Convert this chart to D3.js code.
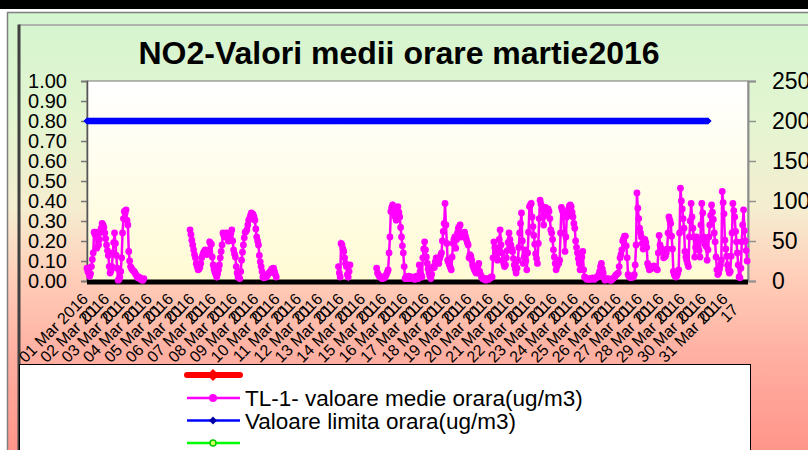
<!DOCTYPE html>
<html><head><meta charset="utf-8">
<script src="https://cdn.jsdelivr.net/npm/d3@7"></script>
<style>body{margin:0;background:#fff;} svg{display:block;font-family:Arial,"Liberation Sans",sans-serif;}</style>
</head><body><svg id="c" width="808" height="450"></svg>
<script>
const chartTitle = "NO2-Valori medii orare martie2016";
const dayLabels = ["01","02","03","04","05","06","07","08","09","10","11","12","13","14","15","16","17","18","19","20","21","22","23","24","25","26","27","28","29","30","31"];
const monthLabel = "Mar 2016";
const tickSubLabels = ["01","01","01","01","01","01","01","01","01","01","01","01","01","01","01","01","01","01","01","01","01","01","01","01","01","01","01","01","01","01","17"];
const hoursTotal = 744;
const leftTicks = [0,0.1,0.2,0.3,0.4,0.5,0.6,0.7,0.8,0.9,1.0];
const rightTicks = [0,50,100,150,200,250];
const limitValue = 200;
const limitHours = [0, 699];
const tl1SegStarts = [0,116,283,326];
const tl1SegA = [16,12,10,6,9,18,27,35,61,58,
 61,41,55,45,52,61,66,72,70,67,
 60,53,45,38,32,18,10,13,18,35,
 48,60,47,32,16,1,2,5,12,29,
 60,78,87,85,89,76,70,37,25,18,
 16,14,13,12,10,8,6,4,5,3,
 4,2,1,1,3];
const tl1SegB = [64,58,51,45,39,33,29,22,18,14,
 15,17,22,29,32,35,37,39,36,33,
 36,39,49,47,46,30,20,15,11,8,
 5,9,14,20,29,37,45,60,57,55,
 58,60,54,50,52,55,60,64,50,39,
 34,30,18,10,5,4,3,12,26,36,
 45,54,61,62,64,70,76,78,82,85,
 84,83,80,76,65,55,50,45,32,24,
 18,12,5,4,6,5,5,7,9,10,
 11,13,15,14,16,12,8,5];
const tl1SegC = [18,10,5,47,45,40,37,29,22,18,8,5,12,20];
const tl1SegD = [16,10,8,6,5,4,3,3,5,4,
 6,8,11,14,35,55,87,92,95,90,
 85,80,76,88,93,86,80,67,55,44,
 35,18,3,5,4,3,6,4,3,3,
 5,4,3,2,4,6,5,3,20,12,
 8,5,29,40,49,39,30,22,15,10,
 6,3,8,16,18,17,24,29,26,24,
 22,28,32,35,50,62,72,97,70,47,
 26,23,20,17,14,30,47,52,55,41,
 52,60,66,68,70,55,58,57,59,61,
 56,52,48,45,29,33,31,26,20,17,
 14,12,10,15,19,22,12,8,5,3,
 4,2,3,1,2,3,2,3,4,5,
 5,29,49,42,35,30,26,38,52,64,
 45,35,26,22,18,20,29,38,48,60,
 52,45,40,37,28,20,15,10,16,26,
 42,60,72,85,50,22,30,39,25,14,
 35,61,93,95,97,80,68,57,46,34,
 28,22,47,78,101,96,89,80,70,82,
 92,88,85,90,87,78,64,60,52,39,
 30,22,14,18,25,22,26,60,92,88,
 85,60,37,55,80,84,90,94,95,93,
 86,80,72,66,50,42,35,28,22,14,
 20,30,37,14,5,4,3,2,3,2,
 3,2,3,4,3,2,3,4,5,5,
 8,12,18,22,15,10,4,1,2,3,
 2,3,2,1,1,2,3,4,5,7,
 8,9,10,18,29,33,39,50,53,56,
 56,44,29,8,6,5,4,5,6,5,
 8,20,45,110,91,78,66,60,55,47,
 40,46,52,48,42,22,18,14,15,16,
 18,17,19,18,16,15,14,35,57,45,
 41,39,37,29,30,31,35,40,60,80,
 76,72,56,40,12,8,6,5,7,10,
 14,60,116,100,90,78,66,37,30,26,
 22,18,55,75,97,80,66,55,30,42,
 55,50,47,38,30,70,97,85,55,50,
 45,43,26,39,55,70,82,95,86,77,
 60,49,30,14,8,10,15,20,26,112,
 98,84,51,40,31,20,14,10,12,31,
 60,97,88,80,62,49,35,20,5,4,
 16,49,70,89,63,50,38,25];
const legendLabels = ["", "TL-1- valoare medie orara(ug/m3)", "Valoare limita orara(ug/m3)", ""];
const legendColors = ["#ff0000", "#ff00ff", "#0000ff", "#00ff00"];

const svg = d3.select("#c");
const W = 808, H = 450;
const P = {l: 87, r: 748, t: 81, b: 281};

const defs = svg.append("defs");
const bg = defs.append("linearGradient").attr("id","bgG").attr("gradientUnits","userSpaceOnUse")
  .attr("x1",0).attr("y1",12).attr("x2",0).attr("y2",450);
[[0,"#d3f5cf"],[0.25,"#e4f5d1"],[0.45,"#f5edd0"],[0.6,"#ffcfba"],[0.78,"#ffb0a2"],[1,"#ff958a"]]
  .forEach(([o,c]) => bg.append("stop").attr("offset",o).attr("stop-color",c));
const pg = defs.append("linearGradient").attr("id","plotG").attr("x1",0).attr("y1",0).attr("x2",0).attr("y2",1);
pg.append("stop").attr("offset",0).attr("stop-color","#ffffff");
pg.append("stop").attr("offset",1).attr("stop-color","#fffbd4");

svg.append("rect").attr("width",W).attr("height",H).attr("fill","#fff");
svg.append("rect").attr("width",W).attr("height",9).attr("fill","#000");
svg.append("rect").attr("x",7.5).attr("y",12.5).attr("width",820).attr("height",460)
  .attr("fill","url(#bgG)").attr("stroke","#808080").attr("stroke-width",1.5);
svg.append("line").attr("x1",19).attr("x2",W).attr("y1",25).attr("y2",25).attr("stroke","#a0a0a0").attr("stroke-width",1.5);
svg.append("line").attr("x1",19).attr("x2",19).attr("y1",24.5).attr("y2",H).attr("stroke","#404040").attr("stroke-width",3);

// title
svg.append("text").attr("x",399).attr("y",64).attr("text-anchor","middle")
  .attr("font-size",32).attr("font-weight","bold").attr("fill","#000").text(chartTitle);

const x = d3.scaleLinear().domain([0, hoursTotal]).range([P.l, P.r]);
const yL = d3.scaleLinear().domain([0, 1]).range([P.b, P.t]);
const yR = d3.scaleLinear().domain([0, 250]).range([P.b, P.t]);

svg.append("rect").attr("x",P.l).attr("y",P.t).attr("width",P.r-P.l).attr("height",P.b-P.t)
  .attr("fill","url(#plotG)").attr("stroke","#8a8a8a").attr("stroke-width",1.2);

// left axis
const gl = svg.append("g").attr("transform",`translate(${P.l},0)`)
  .call(d3.axisLeft(yL).tickValues(leftTicks).tickFormat(d3.format(".2f")).tickSize(6).tickPadding(14));
gl.select(".domain").attr("stroke","#555").attr("stroke-width",1.5);
gl.selectAll(".tick line").attr("stroke","#777").attr("stroke-width",1.5);
gl.selectAll(".tick text").attr("font-size",20).attr("font-family","Arial, 'Liberation Sans', sans-serif").attr("fill","#000");

// right axis
const gr = svg.append("g").attr("transform",`translate(${P.r},0)`)
  .call(d3.axisRight(yR).tickValues(rightTicks).tickFormat(d3.format("d")).tickSize(8).tickPadding(16));
gr.select(".domain").attr("stroke","#909090").attr("stroke-width",2);
gr.selectAll(".tick line").attr("stroke","#909090").attr("stroke-width",1.5);
gr.selectAll(".tick text").attr("font-size",23).attr("font-family","Arial, 'Liberation Sans', sans-serif").attr("fill","#000");

// x axis labels
const xl = svg.append("g");
dayLabels.forEach((d, i) => {
  const t = xl.append("text").attr("transform",`translate(${x(i*24)+2},300) rotate(-45)`)
    .attr("text-anchor","end").attr("font-size",16).attr("fill","#000");
  t.append("tspan").attr("x",0).attr("y",0).text(`${d} ${monthLabel}`);
  t.append("tspan").attr("x",0).attr("dy","0.95em").text(tickSubLabels[i]);
});

// black zero line
svg.append("line").attr("x1",x(0)).attr("x2",x(hoursTotal)).attr("y1",yR(0)+1).attr("y2",yR(0)+1)
  .attr("stroke","#000").attr("stroke-width",5);

// limit line
const limitPts = d3.range(limitHours[0], limitHours[1]+1).map(h => ({h, v: limitValue}));
svg.append("path").datum(limitPts)
  .attr("d", d3.line().x(d => x(d.h)).y(d => yR(d.v)))
  .attr("fill","none").attr("stroke","#0000ff").attr("stroke-width",4.5).attr("stroke-linecap","round");
svg.append("g").selectAll("path").data(limitPts).join("path")
  .attr("d", d => { const cx = x(d.h), cy = yR(d.v), r = 3.6; return `M${cx-r},${cy}L${cx},${cy-r}L${cx+r},${cy}L${cx},${cy+r}Z`; })
  .attr("fill","#0000ff");

// TL-1 series
const segs = [tl1SegA, tl1SegB, tl1SegC, tl1SegD].map((s, k) => s.map((v, j) => ({h: tl1SegStarts[k] + j, v})));
const lineGen = d3.line().x(d => x(d.h)).y(d => yR(d.v));
const gs = svg.append("g");
segs.forEach(s => {
  gs.append("path").datum(s).attr("d", lineGen).attr("fill","none").attr("stroke","#ff00ff").attr("stroke-width",2.5);
});
gs.selectAll("circle").data(segs.flat()).join("circle")
  .attr("cx", d => x(d.h)).attr("cy", d => yR(d.v)).attr("r", 3.4).attr("fill","#ff00ff");

// legend
svg.append("rect").attr("x",19.5).attr("y",364.5).attr("width",731).attr("height",100)
  .attr("fill","#fff").attr("stroke","#000").attr("stroke-width",1);
const rowY = [375, 398, 420.5, 443];
legendColors.forEach((c, i) => {
  const y = rowY[i];
  svg.append("line").attr("x1",187).attr("x2",240).attr("y1",y).attr("y2",y)
    .attr("stroke",c).attr("stroke-width", i === 0 ? 6 : 2.5).attr("stroke-linecap", i === 0 ? "round" : "butt");
  if (i === 0) {
    svg.append("path").attr("d",`M207,${y}L213,${y-6}L219,${y}L213,${y+6}Z`).attr("fill",c);
  } else if (i === 1) {
    svg.append("circle").attr("cx",213).attr("cy",y).attr("r",4).attr("fill",c);
  } else if (i === 2) {
    svg.append("path").attr("d",`M209,${y}L213,${y-4}L217,${y}L213,${y+4}Z`).attr("fill","#0000aa");
  } else {
    svg.append("circle").attr("cx",213).attr("cy",y).attr("r",3).attr("fill","#d0ff60").attr("stroke","#00cc00").attr("stroke-width",1.5);
  }
  if (legendLabels[i]) {
    svg.append("text").attr("x",245).attr("y",y).attr("dy","0.36em").attr("font-size",22.5).attr("fill","#000").text(legendLabels[i]);
  }
});
</script></body></html>
